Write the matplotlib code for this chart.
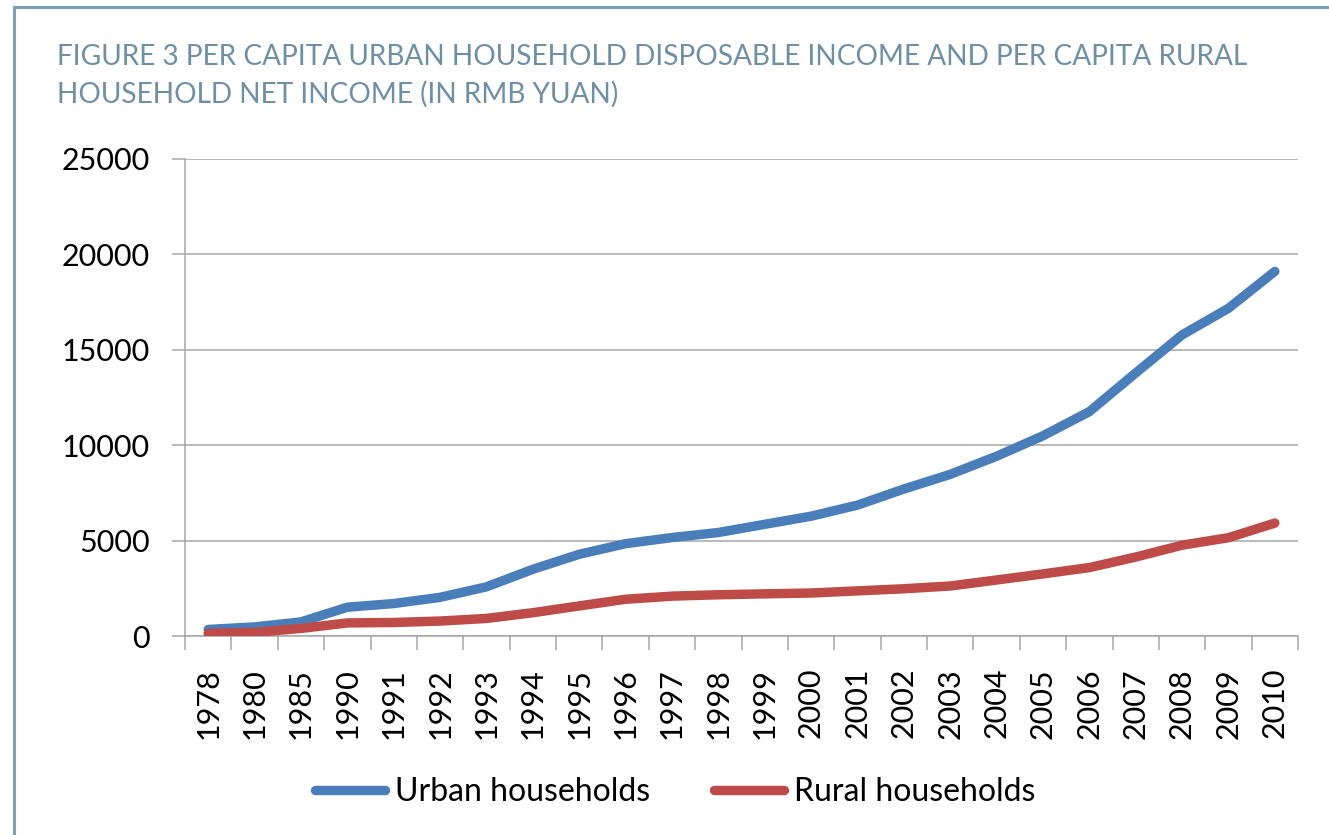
import matplotlib
matplotlib.use("Agg")
import matplotlib.pyplot as plt
from matplotlib.lines import Line2D
from matplotlib.ticker import FixedLocator

# ── data ─────────────────────────────────────────────────────────────────────
years = ["1978", "1980", "1985", "1990", "1991", "1992", "1993", "1994",
         "1995", "1996", "1997", "1998", "1999", "2000", "2001", "2002",
         "2003", "2004", "2005", "2006", "2007", "2008", "2009", "2010"]
urban = [343, 478, 739, 1510, 1701, 2027, 2577, 3496, 4283, 4839, 5160, 5425,
         5854, 6280, 6860, 7703, 8472, 9422, 10493, 11759, 13786, 15781,
         17175, 19109]
rural = [134, 191, 398, 686, 709, 784, 922, 1221, 1578, 1926, 2090, 2162,
         2210, 2253, 2366, 2476, 2622, 2936, 3255, 3587, 4140, 4761, 5153,
         5919]
y_ticks = [0, 5000, 10000, 15000, 20000, 25000]

TITLE = ("FIGURE 3 PER CAPITA URBAN HOUSEHOLD DISPOSABLE INCOME AND PER CAPITA RURAL\n"
         "HOUSEHOLD NET INCOME (IN RMB YUAN)")

BLUE = "#4A7EBB"
RED = "#BE4B48"
GRID = "#A6A6A6"
FRAME = "#7F9DB3"
TITLE_C = "#6F8FA5"

plt.rcParams["font.family"] = ["Lato", "DejaVu Sans"]

fig = plt.figure(figsize=(13.29, 8.35), dpi=100)
ax = fig.add_axes([0.1392, 0.2383, 0.8375, 0.5713])

x = range(len(years))
ax.plot(x, urban, color=BLUE, lw=6.8, solid_joinstyle="round",
        solid_capstyle="round", label="Urban households", zorder=3)
ax.plot(x, rural, color=RED, lw=6.8, solid_joinstyle="round",
        solid_capstyle="round", label="Rural households", zorder=3)

ax.set_xlim(-0.5, len(years) - 0.5)
ax.set_ylim(0, 25000)
ax.set_yticks(y_ticks)
ax.set_yticklabels([str(v) for v in y_ticks], fontsize=22)
ax.set_xticks(list(x))
ax.set_xticklabels(years, rotation=90, fontsize=22)
ax.xaxis.set_minor_locator(FixedLocator([i - 0.5 for i in range(len(years) + 1)]))

ax.tick_params(axis="x", which="major", length=0, pad=23)
ax.tick_params(axis="x", which="minor", length=10, width=1.1, color=GRID)
ax.tick_params(axis="y", length=9.4, width=1.1, color=GRID, pad=16)

ax.grid(True, axis="y", color=GRID, lw=1.1)
ax.set_axisbelow(True)
for s in ["top", "right"]:
    ax.spines[s].set_visible(False)
for s in ["left", "bottom"]:
    ax.spines[s].set_color(GRID)
    ax.spines[s].set_linewidth(1.1)

fig.text(0.0429, 0.947, TITLE, fontsize=20.2, color=TITLE_C, va="top", ha="left",
         linespacing=1.5)

fig.legend(loc="center", bbox_to_anchor=(0.508, 0.0515), ncol=2, frameon=False,
           fontsize=23, handlelength=2.2, handletextpad=0.3, columnspacing=2.0)

# outer frame: top and left edges
fig.add_artist(Line2D([14 / 1329, 14 / 1329], [0, 1 - 7 / 835],
                      transform=fig.transFigure, color=FRAME, lw=2.2))
fig.add_artist(Line2D([14 / 1329, 1], [1 - 7 / 835, 1 - 7 / 835],
                      transform=fig.transFigure, color=FRAME, lw=2.2))

fig.savefig("out.png", dpi=100, facecolor="white")
